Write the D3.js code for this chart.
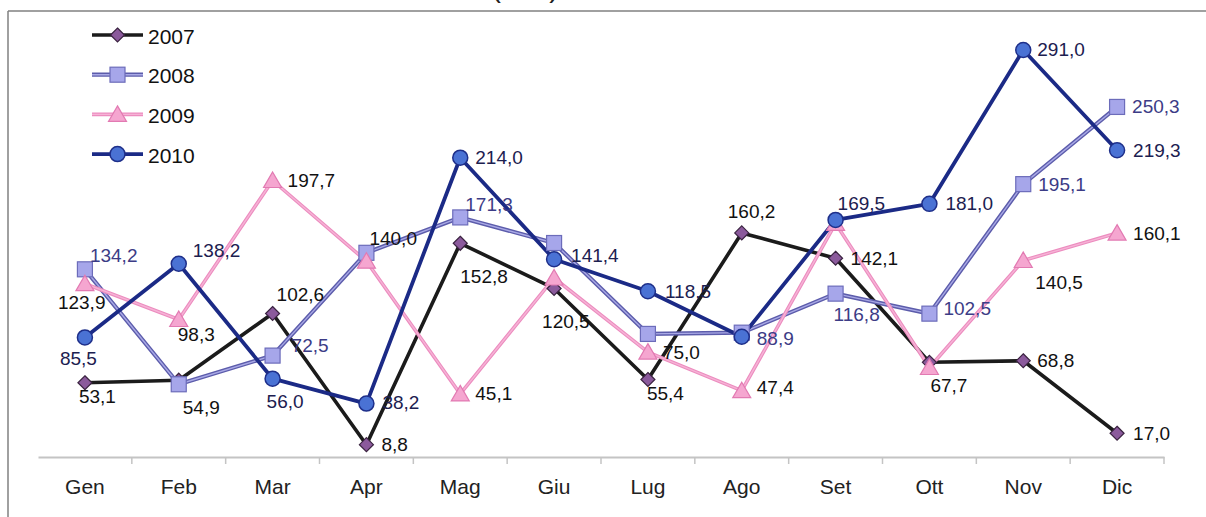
<!DOCTYPE html>
<html>
<head>
<meta charset="utf-8">
<script src="https://cdn.jsdelivr.net/npm/d3@7"></script>
<style>
  html, body { margin: 0; padding: 0; background: #fff; }
  svg { display: block; font-family: "Liberation Sans", Arial, sans-serif; }
</style>
</head>
<body>
<svg id="chart" width="1206" height="517"></svg>
<script>
// ---------- data ----------
const months = ["Gen","Feb","Mar","Apr","Mag","Giu","Lug","Ago","Set","Ott","Nov","Dic"];
const years  = ["2007","2008","2009","2010"];
const v2007 = [53.1, 54.9, 102.6, 8.8, 152.8, 120.5, 55.4, 160.2, 142.1, 67.7, 68.8, 17.0];
const v2008 = [134.2, 52.0, 72.5, 146.0, 171.3, 153.0, 88.0, 88.9, 116.8, 102.5, 195.1, 250.3];
const v2009 = [123.9, 98.3, 197.7, 140.0, 45.1, 128.0, 75.0, 47.4, 167.0, 64.0, 140.5, 160.1];
const v2010 = [85.5, 138.2, 56.0, 38.2, 214.0, 141.4, 118.5, 86.0, 169.5, 181.0, 291.0, 219.3];
// which points carry a value label
const lab2007 = [1,1,1,1,1,1,1,1,1,1,1,1];
const lab2008 = [1,0,1,0,1,0,0,1,1,1,1,1];
const lab2009 = [1,1,1,1,1,0,1,1,0,0,1,1];
const lab2010 = [1,1,1,1,1,1,1,0,1,1,1,1];
const unitText = "(mm)";

// ---------- label placement (offsets from point) ----------
const off2007 = [[-6,14],[4,27],[4,-19],[15,0],[0,33],[-12,33],[-1,14],[-14,-21],[15,0],[1,23],[14,0],[16,0]];
const off2008 = [[5,-14],[0,0],[19,-10],[0,0],[5,-13],[0,0],[0,0],[15,6],[-2,21],[14,-5],[15,0],[15,0]];
const off2009 = [[-27,19],[-1,15],[15,0],[3,-23],[15,0],[0,0],[15,0],[15,-3],[0,0],[0,0],[12,22],[16,0]];
const off2010 = [[-25,21],[14,-13],[-6,23],[16,-1],[15,0],[17,-4],[17,0],[0,0],[2,-16],[16,0],[14,-1],[16,0]];

// ---------- styles ----------
const styles = {
  "2007": {line:"#1b1b1b", inner:null, lw:3.6, marker:"diamond", fill:"#8b5a9c", stroke:"#3a2340", labelColor:"#111"},
  "2008": {line:"#5c5cab", inner:"#a9a9e6", lw:4.2, marker:"square", fill:"#a6a6ea", stroke:"#6c6cba", labelColor:"#3c3c86"},
  "2009": {line:"#ec8cbf", inner:"#f6b3d6", lw:3.6, marker:"triangle", fill:"#f5a6d0", stroke:"#e27ab2", labelColor:"#111"},
  "2010": {line:"#1b2a86", inner:null, lw:3.8, marker:"circle", fill:"#4a72d4", stroke:"#1e2f8a", labelColor:"#1c2050"}
};

const seriesList = [
  {year:"2007", values:v2007, labels:lab2007, offs:off2007},
  {year:"2008", values:v2008, labels:lab2008, offs:off2008},
  {year:"2009", values:v2009, labels:lab2009, offs:off2009},
  {year:"2010", values:v2010, labels:lab2010, offs:off2010}
];

const svg = d3.select("#chart");

// frame
svg.append("line").attr("x1",8).attr("x2",1206).attr("y1",11).attr("y2",11)
   .attr("stroke","#808080").attr("stroke-width",1.5);
svg.append("line").attr("x1",8).attr("x2",8).attr("y1",11).attr("y2",517)
   .attr("stroke","#808080").attr("stroke-width",1.5);

// cut-off title fragment (only the bottom of the parentheses shows)
svg.append("text").attr("x",525).attr("y",-3).attr("text-anchor","middle")
   .attr("font-size",29).attr("fill","#222").text(unitText);

// scales
const x = d3.scaleBand().domain(months).range([38,1164]).padding(0);
const y = d3.scaleLinear().domain([0,300]).range([457, 457 - 300*1.3986]);
const cx = m => x(m) + x.bandwidth()/2;

// x axis
const axis = svg.append("g").attr("transform",`translate(0,${y(0)})`)
  .call(d3.axisBottom(x).tickSizeInner(0).tickSizeOuter(0).tickPadding(22));
axis.select(".domain").attr("stroke","#c4c4c4").attr("stroke-width",2);
axis.selectAll(".tick text").attr("font-size",21).attr("fill","#222")
   .attr("font-family","'Liberation Sans', Arial, sans-serif");
// boundary ticks
const bounds = months.slice(1).map(m => x(m)).concat([x.range()[1]]);
axis.selectAll("line.bt").data(bounds).enter().append("line").attr("class","bt")
   .attr("x1",d=>d).attr("x2",d=>d).attr("y1",0).attr("y2",7)
   .attr("stroke","#c4c4c4").attr("stroke-width",1.5);

// marker drawer
function drawMarker(g, type, st, px, py) {
  if (type === "diamond") {
    const r = 7;
    g.append("path").attr("d",`M${px},${py-r}L${px+r},${py}L${px},${py+r}L${px-r},${py}Z`)
      .attr("fill",st.fill).attr("stroke",st.stroke).attr("stroke-width",1.2);
  } else if (type === "square") {
    const s = 7.5;
    g.append("rect").attr("x",px-s).attr("y",py-s).attr("width",2*s).attr("height",2*s)
      .attr("fill",st.fill).attr("stroke",st.stroke).attr("stroke-width",1.2);
  } else if (type === "triangle") {
    const h = 8.5;
    g.append("path").attr("d",`M${px},${py-h}L${px+9},${py+7}L${px-9},${py+7}Z`)
      .attr("fill",st.fill).attr("stroke",st.stroke).attr("stroke-width",1.2);
  } else {
    g.append("circle").attr("cx",px).attr("cy",py).attr("r",7.5)
      .attr("fill",st.fill).attr("stroke",st.stroke).attr("stroke-width",1.5);
  }
}

const line = d3.line().x((d,i)=>cx(months[i])).y(d=>y(d));

// lines
seriesList.forEach(s => {
  const st = styles[s.year];
  svg.append("path").datum(s.values).attr("d",line).attr("fill","none")
     .attr("stroke",st.line).attr("stroke-width",st.lw).attr("stroke-linejoin","round");
  if (st.inner) {
    svg.append("path").datum(s.values).attr("d",line).attr("fill","none")
       .attr("stroke",st.inner).attr("stroke-width",1.4).attr("stroke-linejoin","round");
  }
});

// markers
seriesList.forEach(s => {
  const st = styles[s.year];
  const g = svg.append("g");
  s.values.forEach((v,i) => drawMarker(g, st.marker, st, cx(months[i]), y(v)));
});

// labels
const fmt = v => v.toFixed(1).replace(".", ",");
seriesList.forEach(s => {
  const st = styles[s.year];
  s.values.forEach((v,i) => {
    if (!s.labels[i]) return;
    svg.append("text")
      .attr("x", cx(months[i]) + s.offs[i][0])
      .attr("y", y(v) + s.offs[i][1])
      .attr("dominant-baseline","central")
      .attr("font-size",19).attr("fill",st.labelColor)
      .text(fmt(v));
  });
});

// legend
const leg = svg.append("g");
years.forEach((yr,i) => {
  const st = styles[yr];
  const ly = 35 + i*39.7;
  leg.append("line").attr("x1",92).attr("x2",143).attr("y1",ly).attr("y2",ly)
     .attr("stroke",st.line).attr("stroke-width",st.lw);
  if (st.inner) leg.append("line").attr("x1",92).attr("x2",143).attr("y1",ly).attr("y2",ly)
     .attr("stroke",st.inner).attr("stroke-width",1.4);
  drawMarker(leg, st.marker, st, 117.5, ly);
  leg.append("text").attr("x",148).attr("y",ly+1).attr("dominant-baseline","central")
     .attr("font-size",21).attr("fill","#111").text(yr);
});
</script>
</body>
</html>
